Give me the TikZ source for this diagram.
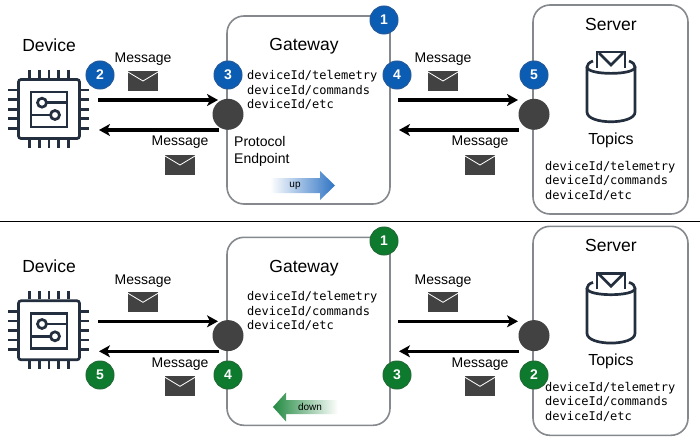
\documentclass[tikz,border=0pt]{standalone}
\usepackage{fontspec}
\setmainfont{Liberation Sans}
\setmonofont{DejaVu Sans Mono}
\usepackage{xcolor}
\usetikzlibrary{arrows.meta}
\definecolor{iconcol}{HTML}{232F3E}
\definecolor{boxcol}{HTML}{85888C}
\definecolor{darkcol}{HTML}{424242}
\definecolor{bluecol}{HTML}{0B5DB3}
\definecolor{blueline}{HTML}{23599A}
\definecolor{greencol}{HTML}{0D7A2E}
\definecolor{greenline}{HTML}{1F6B33}
\definecolor{upmid}{HTML}{D2E6FA}
\definecolor{upend}{HTML}{2F74C4}
\definecolor{downmid}{HTML}{B5DDBB}
\definecolor{downend}{HTML}{238A42}
\tikzset{
  >={Stealth[length=11pt,width=12pt,inset=3pt]},
  box/.style = {draw=boxcol, line width=1.6pt, fill=white, rounded corners=17pt},
  icon/.style = {draw=iconcol, line width=2.7pt},
  endpoint/.style = {circle, fill=darkcol, minimum size=31pt, inner sep=0pt},
  badge/.style = {circle, draw, line width=1pt, minimum size=28pt, inner sep=0pt,
    text=white, font=\fontsize{14}{16}\selectfont\bfseries},
  bluebadge/.style = {badge, fill=bluecol, draw=blueline},
  greenbadge/.style = {badge, fill=greencol, draw=greenline},
  title/.style = {font=\fontsize{17.5}{20}\selectfont, inner sep=0pt},
  label/.style = {font=\fontsize{14}{17}\selectfont, inner sep=0pt},
  topics/.style = {font=\fontsize{12}{14.5}\ttfamily\selectfont, align=left, inner sep=0pt, anchor=west},
  flow/.style = {-{>}, line width=3.5pt},
  envelope/.pic = {
    \fill[darkcol] (-15,-10) rectangle (15,10);
    \draw[white, line width=0.8pt] (-15,-9) -- (0,0) -- (15,-9);
  }
}
\begin{document}
\begin{tikzpicture}[x=1pt,y=-1pt]
\useasboundingbox (0,0) rectangle (700,441);

% The divider
\coordinate (divL) at (0,221);
\coordinate (divR) at (700,221);
\draw[line width=1pt] (divL) -- (divR);

% Both panels, the lower one shifted down
\foreach \p/\dy in {t/0,b/221.3} {
  \draw[box] (227,16+\dy) rectangle (390,204+\dy);
  \draw[box] (533,5+\dy) rectangle (688,214+\dy);

  \node[title] (dev\p) at (49,45+\dy) {Device};
  \node[title] (gw\p) at (304,46.5+\dy) {Gateway};
  \node[title] (srv\p) at (611,24+\dy) {Server};
  \node[label, font=\fontsize{16}{18}\selectfont] (top\p) at (611,140.5+\dy) {Topics};

  % The chip
  \draw[icon, rounded corners=2.5pt] (18.5,79.5+\dy) rectangle (79.5,138.5+\dy);
  \draw[icon] (31,92+\dy) rectangle (67,127+\dy);
  \foreach \i in {0,...,4} {
    \draw[icon] (29.5+9.7*\i,70+\dy) -- (29.5+9.7*\i,78+\dy);
    \draw[icon] (29.5+9.7*\i,140+\dy) -- (29.5+9.7*\i,148+\dy);
    \draw[icon] (8,90+9.6*\i+\dy) -- (17,90+9.6*\i+\dy);
    \draw[icon] (81,90+9.6*\i+\dy) -- (89,90+9.6*\i+\dy);
  }
  \draw[icon] (47,102.7+\dy) -- (67,102.7+\dy);
  \draw[icon] (42,102.7+\dy) circle (4.5pt);
  \draw[icon] (31,115+\dy) -- (50,115+\dy);
  \draw[icon] (55,115+\dy) circle (4.5pt);

  % The bucket with its letter
  \draw[icon] (597,68+\dy) -- (597,52+\dy) -- (625,52+\dy) -- (625,68+\dy);
  \draw[icon] (599,53+\dy) -- (611,65+\dy) -- (623,53+\dy);
  \draw[icon] (593,61+\dy) .. controls (589,62.5+\dy) and (587,64.5+\dy) .. (587,67+\dy)
    .. controls (587,75.5+\dy) and (635,75.5+\dy) .. (635,67+\dy)
    .. controls (635,64.5+\dy) and (633,62.5+\dy) .. (629,61+\dy);
  \draw[icon] (587,67+\dy) -- (587,112+\dy)
    .. controls (587,125+\dy) and (635,125+\dy) .. (635,112+\dy) -- (635,67+\dy);

  % Topic lists
  \node[topics] (gwlist\p) at (247,90+\dy) {deviceId/telemetry\\deviceId/commands\\deviceId/etc};
  \node[topics] (srvlist\p) at (545,180.5+\dy) {deviceId/telemetry\\deviceId/commands\\deviceId/etc};

  % Endpoints
  \node[endpoint] (gwep\p) at (228,114.3+\dy) {};
  \node[endpoint] (srvep\p) at (534,114.3+\dy) {};

  % Connectors
  \coordinate (a\p) at (98,100+\dy);
  \coordinate (b\p) at (218,100+\dy);
  \coordinate (c\p) at (219,130+\dy);
  \coordinate (d\p) at (99,130+\dy);
  \coordinate (e\p) at (398,100+\dy);
  \coordinate (f\p) at (518,100+\dy);
  \coordinate (g\p) at (519,130+\dy);
  \coordinate (h\p) at (399,130+\dy);
  \draw[flow] (a\p) -- (b\p);
  \draw[flow] (c\p) -- (d\p);
  \draw[flow] (e\p) -- (f\p);
  \draw[flow] (g\p) -- (h\p);

  % Messages
  \node[label] (ma\p) at (143,59.5+\dy) {Message};
  \node[label] (mb\p) at (180,142.5+\dy) {Message};
  \node[label] (mc\p) at (443,59.5+\dy) {Message};
  \node[label] (md\p) at (480,142.5+\dy) {Message};
  \pic at (143,81+\dy) {envelope};
  \pic at (180,165+\dy) {envelope};
  \pic at (443,81+\dy) {envelope};
  \pic at (480,165+\dy) {envelope};
}

\node[label, align=left, anchor=north west, font=\fontsize{14}{17}\selectfont] (proto) at (234,136.5) {Protocol\\Endpoint};

% Direction arrows
\path[left color=white, middle color=upmid, right color=upend] (270,178) -- (320,178) -- (320,171) -- (335,185.5)
  -- (320,200) -- (320,193) -- (270,193) -- cycle;
\node[inner sep=0pt, font=\fontsize{10}{12}\selectfont] (up) at (295,185.5) {up};
\path[left color=downend, middle color=downmid, right color=white] (338,400) -- (286,400) -- (286,392.5) -- (273,407)
  -- (286,421.5) -- (286,414) -- (338,414) -- cycle;
\node[inner sep=0pt, font=\fontsize{10}{12}\selectfont] (down) at (310,407) {down};

% Numbers, upper panel
\node[bluebadge] (n1) at (384,20) {1};
\node[bluebadge] (n2) at (100,75) {2};
\node[bluebadge] (n3) at (228,75) {3};
\node[bluebadge] (n4) at (397,75) {4};
\node[bluebadge] (n5) at (534,75) {5};

% Numbers, lower panel
\node[greenbadge] (m1) at (384,241) {1};
\node[greenbadge] (m2) at (534,375) {2};
\node[greenbadge] (m3) at (397,375) {3};
\node[greenbadge] (m4) at (228,375) {4};
\node[greenbadge] (m5) at (100,375) {5};
\end{tikzpicture}
\end{document}
